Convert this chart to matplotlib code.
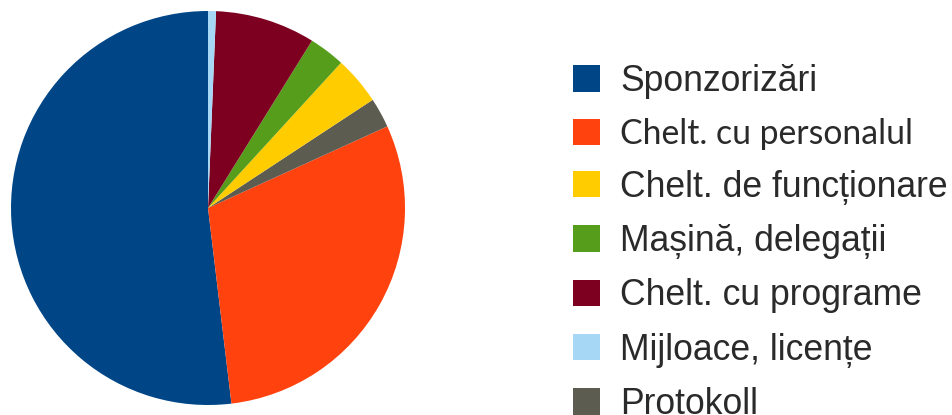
import matplotlib
matplotlib.use("Agg")
import matplotlib.pyplot as plt
from matplotlib.patches import Patch

# data (order around the pie, counter-clockwise from 12 o'clock)
pie_labels = ["Sponzorizări", "Chelt. cu personalul", "Protokoll",
              "Chelt. de funcționare", "Mașină, delegații",
              "Chelt. cu programe", "Mijloace, licențe"]
pie_values = [51.9, 29.9, 2.45, 3.95, 2.95, 8.2, 0.65]
pie_colors = ["#004586", "#FF420E", "#5C5C51", "#FFCC00", "#579D1C",
              "#7E0021", "#A6D8F6"]

# legend order
legend_labels = ["Sponzorizări", "Chelt. cu personalul", "Chelt. de funcționare",
                 "Mașină, delegații", "Chelt. cu programe", "Mijloace, licențe",
                 "Protokoll"]

W, H = 952, 415
fig = plt.figure(figsize=(W / 100, H / 100), dpi=100)
cx, cy, r = 208, 207, 197
ax = fig.add_axes([(cx - r) / W, (cy - r) / H, 2 * r / W, 2 * r / H])
ax.pie(pie_values, colors=pie_colors, startangle=90, counterclock=True,
       wedgeprops=dict(linewidth=0))
ax.set_xlim(-1, 1)
ax.set_ylim(-1, 1)
ax.set_aspect("equal")
ax.axis("off")

cmap = dict(zip(pie_labels, pie_colors))
handles = [Patch(facecolor=cmap[l], edgecolor="none") for l in legend_labels]
fs = 25.6
leg = fig.legend(handles, legend_labels, loc="upper left",
                 bbox_to_anchor=(573 / W, 1 - 64 / H), frameon=False,
                 prop={"family": "Liberation Sans", "size": fs},
                 handlelength=0.76, handleheight=0.76, handletextpad=0.56,
                 labelspacing=0.543, borderpad=0, borderaxespad=0)
for t in leg.get_texts():
    t.set_color("#2a2a2a")
    if t.get_text() == "Chelt. cu personalul":
        t.set_family("Lato")
        t.set_fontsize(24.3)

fig.savefig("out.png", dpi=100)
